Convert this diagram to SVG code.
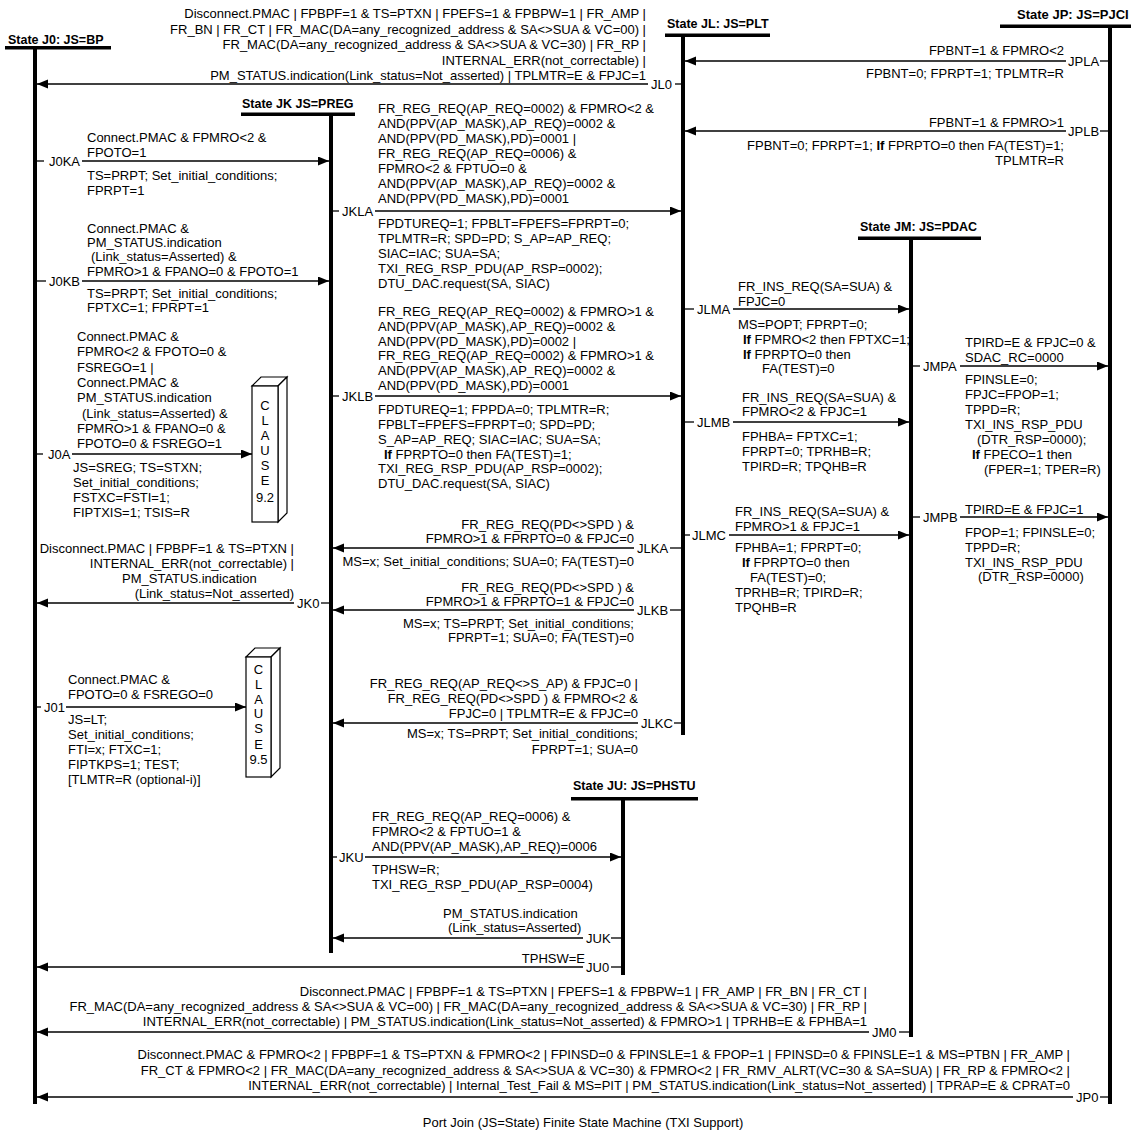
<svg xmlns="http://www.w3.org/2000/svg" width="1131" height="1133" viewBox="0 0 1131 1133">
<style>
text{font-family:"Liberation Sans",Arial,sans-serif;font-size:13px;fill:#000}
.r{text-anchor:end}
.h{font-weight:bold;font-size:12.5px}
.b{font-weight:bold}
.st{stroke:#000;stroke-width:4;fill:none}
.bar{fill:#000}
.c{stroke:#000;stroke-width:1.3;fill:none}
.cap{text-anchor:middle}
.box{fill:#fff;stroke:#000;stroke-width:1.2}
.mid{text-anchor:middle}
</style>
<defs>
<marker id="ah" markerUnits="userSpaceOnUse" markerWidth="12" markerHeight="10" refX="11" refY="4.5" orient="auto"><path d="M0,0 L11,4.5 L0,9 z" fill="#000"/></marker>
</defs>

<g id="J0"><text class="h" x="8" y="44">State J0: JS=BP</text><rect class="bar" x="5" y="46" width="106" height="3.5"/><line class="st" x1="35" y1="47" x2="35" y2="1104"/></g>
<g id="JL"><text class="h" x="667" y="28">State JL: JS=PLT</text><rect class="bar" x="665" y="33.5" width="105" height="3.5"/><line class="st" x1="683" y1="34" x2="683" y2="735"/></g>
<g id="JP"><text class="h" x="1017" y="19" style="font-size:13px">State JP: JS=PJCI</text><rect class="bar" x="1000" y="24.5" width="131" height="3.5"/><line class="st" x1="1110" y1="25" x2="1110" y2="1104"/></g>
<g id="JK"><text class="h" x="242" y="108">State JK JS=PREG</text><rect class="bar" x="241" y="112.5" width="114" height="3.5"/><line class="st" x1="331" y1="113" x2="331" y2="953"/></g>
<g id="JM"><text class="h" x="860" y="231">State JM: JS=PDAC</text><rect class="bar" x="858" y="236.5" width="123" height="3.5"/><line class="st" x1="911" y1="237" x2="911" y2="1037"/></g>
<g id="JU"><text class="h" x="573" y="790">State JU: JS=PHSTU</text><rect class="bar" x="571" y="797" width="127" height="3.5"/><line class="st" x1="623" y1="798" x2="623" y2="975"/></g>

<g id="CL92"><path class="box" d="M252,386 L261,377 L287,377 L278,386 Z"/><path class="box" d="M278,386 L287,377 L287,513 L278,522 Z"/><rect class="box" x="252" y="386" width="26" height="136"/>
<text class="mid" x="265" y="410">C</text><text class="mid" x="265" y="425">L</text><text class="mid" x="265" y="440">A</text><text class="mid" x="265" y="455">U</text><text class="mid" x="265" y="470">S</text><text class="mid" x="265" y="485">E</text><text class="mid" x="265" y="502">9.2</text></g>
<g id="CL95"><path class="box" d="M246,657 L255,648 L280,648 L271,657 Z"/><path class="box" d="M271,657 L280,648 L280,768 L271,777 Z"/><rect class="box" x="246" y="657" width="25" height="120"/>
<text class="mid" x="258.5" y="674">C</text><text class="mid" x="258.5" y="689">L</text><text class="mid" x="258.5" y="704">A</text><text class="mid" x="258.5" y="718">U</text><text class="mid" x="258.5" y="733">S</text><text class="mid" x="258.5" y="749">E</text><text class="mid" x="258.5" y="764">9.5</text></g>

<g id="connectors">
<!-- JL0 -->
<line class="c" x1="648" y1="84" x2="37" y2="84" marker-end="url(#ah)"/><line class="c" x1="675" y1="84" x2="683" y2="84"/>
<text x="651" y="89">JL0</text>
<text class="r" x="646" y="18">Disconnect.PMAC | FPBPF=1 &amp; TS=PTXN | FPEFS=1 &amp; FPBPW=1 | FR_AMP |</text>
<text class="r" x="646" y="34">FR_BN | FR_CT | FR_MAC(DA=any_recognized_address &amp; SA&lt;&gt;SUA &amp; VC=00) |</text>
<text class="r" x="646" y="49">FR_MAC(DA=any_recognized_address &amp; SA&lt;&gt;SUA &amp; VC=30) | FR_RP |</text>
<text class="r" x="646" y="65">INTERNAL_ERR(not_correctable) |</text>
<text class="r" x="646" y="80">PM_STATUS.indication(Link_status=Not_asserted) | TPLMTR=E &amp; FPJC=1</text>

<!-- JPLA -->
<line class="c" x1="1066" y1="61" x2="685" y2="61" marker-end="url(#ah)"/><line class="c" x1="1100" y1="61" x2="1110" y2="61"/>
<text x="1068" y="66">JPLA</text>
<text class="r" x="1064" y="55">FPBNT=1 &amp; FPMRO&lt;2</text>
<text class="r" x="1064" y="78">FPBNT=0; FPRPT=1; TPLMTR=R</text>

<!-- JPLB -->
<line class="c" x1="1066" y1="131" x2="685" y2="131" marker-end="url(#ah)"/><line class="c" x1="1100" y1="131" x2="1110" y2="131"/>
<text x="1068" y="136">JPLB</text>
<text class="r" x="1064" y="127">FPBNT=1 &amp; FPMRO&gt;1</text>
<text class="r" x="1064" y="150">FPBNT=0; FPRPT=1;  <tspan class="b">If</tspan> FPRPTO=0 then FA(TEST)=1;</text>
<text class="r" x="1064" y="165">TPLMTR=R</text>

<!-- J0KA -->
<line class="c" x1="35" y1="161" x2="44" y2="161"/><line class="c" x1="82" y1="161" x2="329" y2="161" marker-end="url(#ah)"/>
<text class="r" x="80" y="166">J0KA</text>
<text x="87" y="142">Connect.PMAC &amp; FPMRO&lt;2 &amp;</text>
<text x="87" y="157">FPOTO=1</text>
<text x="87" y="180">TS=PRPT; Set_initial_conditions;</text>
<text x="87" y="195">FPRPT=1</text>

<!-- J0KB -->
<line class="c" x1="35" y1="281" x2="46" y2="281"/><line class="c" x1="82" y1="281" x2="329" y2="281" marker-end="url(#ah)"/>
<text class="r" x="80" y="286">J0KB</text>
<text x="87" y="233">Connect.PMAC &amp;</text>
<text x="87" y="247">PM_STATUS.indication</text>
<text x="91" y="261">(Link_status=Asserted) &amp;</text>
<text x="87" y="276">FPMRO&gt;1 &amp; FPANO=0 &amp; FPOTO=1</text>
<text x="87" y="298">TS=PRPT; Set_initial_conditions;</text>
<text x="87" y="312">FPTXC=1; FPRPT=1</text>

<!-- J0A -->
<line class="c" x1="35" y1="454" x2="43" y2="454"/><line class="c" x1="72" y1="454" x2="252" y2="454" marker-end="url(#ah)"/>
<text x="48" y="459">J0A</text>
<text x="77" y="341">Connect.PMAC &amp;</text>
<text x="77" y="356">FPMRO&lt;2 &amp; FPOTO=0 &amp;</text>
<text x="77" y="372">FSREGO=1 |</text>
<text x="77" y="387">Connect.PMAC &amp;</text>
<text x="77" y="402">PM_STATUS.indication</text>
<text x="82" y="418">(Link_status=Asserted) &amp;</text>
<text x="77" y="433">FPMRO&gt;1 &amp; FPANO=0 &amp;</text>
<text x="77" y="448">FPOTO=0 &amp; FSREGO=1</text>
<text x="73" y="472">JS=SREG; TS=STXN;</text>
<text x="73" y="487">Set_initial_conditions;</text>
<text x="73" y="502">FSTXC=FSTI=1;</text>
<text x="73" y="517">FIPTXIS=1; TSIS=R</text>

<!-- JK0 -->
<line class="c" x1="294" y1="603" x2="37" y2="603" marker-end="url(#ah)"/><line class="c" x1="321" y1="603" x2="331" y2="603"/>
<text x="297" y="608">JK0</text>
<text class="r" x="294" y="553">Disconnect.PMAC | FPBPF=1 &amp; TS=PTXN |</text>
<text class="r" x="294" y="568">INTERNAL_ERR(not_correctable) |</text>
<text x="122" y="583">PM_STATUS.indication</text>
<text class="r" x="294" y="598">(Link_status=Not_asserted)</text>

<!-- J01 -->
<line class="c" x1="35" y1="707" x2="41" y2="707"/><line class="c" x1="66" y1="707" x2="246" y2="707" marker-end="url(#ah)"/>
<text x="44" y="712">J01</text>
<text x="68" y="684">Connect.PMAC &amp;</text>
<text x="68" y="699">FPOTO=0 &amp; FSREGO=0</text>
<text x="68" y="724">JS=LT;</text>
<text x="68" y="739">Set_initial_conditions;</text>
<text x="68" y="754">FTI=x; FTXC=1;</text>
<text x="68" y="769">FIPTKPS=1;  TEST;</text>
<text x="68" y="784">[TLMTR=R (optional-i)]</text>

<!-- JKLA -->
<line class="c" x1="331" y1="211" x2="339" y2="211"/><line class="c" x1="375" y1="211" x2="681" y2="211" marker-end="url(#ah)"/>
<text x="342" y="216">JKLA</text>
<text x="378" y="113">FR_REG_REQ(AP_REQ=0002) &amp; FPMRO&lt;2 &amp;</text>
<text x="378" y="128">AND(PPV(AP_MASK),AP_REQ)=0002 &amp;</text>
<text x="378" y="143">AND(PPV(PD_MASK),PD)=0001 |</text>
<text x="378" y="158">FR_REG_REQ(AP_REQ=0006) &amp;</text>
<text x="378" y="173">FPMRO&lt;2 &amp; FPTUO=0 &amp;</text>
<text x="378" y="188">AND(PPV(AP_MASK),AP_REQ)=0002 &amp;</text>
<text x="378" y="203">AND(PPV(PD_MASK),PD)=0001</text>
<text x="378" y="228">FPDTUREQ=1; FPBLT=FPEFS=FPRPT=0;</text>
<text x="378" y="243">TPLMTR=R; SPD=PD; S_AP=AP_REQ;</text>
<text x="378" y="258">SIAC=IAC; SUA=SA;</text>
<text x="378" y="273">TXI_REG_RSP_PDU(AP_RSP=0002);</text>
<text x="378" y="288">DTU_DAC.request(SA, SIAC)</text>

<!-- JKLB -->
<line class="c" x1="331" y1="396" x2="339" y2="396"/><line class="c" x1="375" y1="396" x2="681" y2="396" marker-end="url(#ah)"/>
<text x="342" y="401">JKLB</text>
<text x="378" y="316">FR_REG_REQ(AP_REQ=0002) &amp; FPMRO&gt;1 &amp;</text>
<text x="378" y="331">AND(PPV(AP_MASK),AP_REQ)=0002 &amp;</text>
<text x="378" y="346">AND(PPV(PD_MASK),PD)=0002 |</text>
<text x="378" y="360">FR_REG_REQ(AP_REQ=0002) &amp; FPMRO&gt;1 &amp;</text>
<text x="378" y="375">AND(PPV(AP_MASK),AP_REQ)=0002 &amp;</text>
<text x="378" y="390">AND(PPV(PD_MASK),PD)=0001</text>
<text x="378" y="414">FPDTUREQ=1; FPPDA=0; TPLMTR=R;</text>
<text x="378" y="429">FPBLT=FPEFS=FPRPT=0; SPD=PD;</text>
<text x="378" y="444">S_AP=AP_REQ; SIAC=IAC; SUA=SA;</text>
<text x="384" y="459"><tspan class="b">If</tspan> FPRPTO=0 then FA(TEST)=1;</text>
<text x="378" y="473">TXI_REG_RSP_PDU(AP_RSP=0002);</text>
<text x="378" y="488">DTU_DAC.request(SA, SIAC)</text>

<!-- JLKA -->
<line class="c" x1="634" y1="548" x2="333" y2="548" marker-end="url(#ah)"/><line class="c" x1="670" y1="548" x2="683" y2="548"/>
<text x="637" y="553">JLKA</text>
<text class="r" x="634" y="529">FR_REG_REQ(PD&lt;&gt;SPD ) &amp;</text>
<text class="r" x="634" y="543">FPMRO&gt;1 &amp; FPRPTO=0 &amp; FPJC=0</text>
<text class="r" x="634" y="566">MS=x; Set_initial_conditions; SUA=0; FA(TEST)=0</text>

<!-- JLKB -->
<line class="c" x1="634" y1="610" x2="333" y2="610" marker-end="url(#ah)"/><line class="c" x1="670" y1="610" x2="683" y2="610"/>
<text x="637" y="615">JLKB</text>
<text class="r" x="634" y="592">FR_REG_REQ(PD&lt;&gt;SPD ) &amp;</text>
<text class="r" x="634" y="606">FPMRO&gt;1 &amp; FPRPTO=1 &amp; FPJC=0</text>
<text class="r" x="634" y="628">MS=x; TS=PRPT; Set_initial_conditions;</text>
<text class="r" x="634" y="642">FPRPT=1; SUA=0; FA(TEST)=0</text>

<!-- JLKC -->
<line class="c" x1="638" y1="723" x2="333" y2="723" marker-end="url(#ah)"/><line class="c" x1="674" y1="723" x2="683" y2="723"/>
<text x="641" y="728">JLKC</text>
<text class="r" x="638" y="688">FR_REG_REQ(AP_REQ&lt;&gt;S_AP) &amp; FPJC=0 |</text>
<text class="r" x="638" y="703">FR_REG_REQ(PD&lt;&gt;SPD ) &amp; FPMRO&lt;2 &amp;</text>
<text class="r" x="638" y="718">FPJC=0 | TPLMTR=E &amp; FPJC=0</text>
<text class="r" x="638" y="738">MS=x; TS=PRPT; Set_initial_conditions;</text>
<text class="r" x="638" y="754">FPRPT=1; SUA=0</text>

<!-- JLMA -->
<line class="c" x1="683" y1="309" x2="694" y2="309"/><line class="c" x1="733" y1="309" x2="909" y2="309" marker-end="url(#ah)"/>
<text x="697" y="314">JLMA</text>
<text x="738" y="291">FR_INS_REQ(SA=SUA) &amp;</text>
<text x="738" y="306">FPJC=0</text>
<text x="738" y="329">MS=POPT; FPRPT=0;</text>
<text x="743" y="344"><tspan class="b">If</tspan> FPMRO&lt;2 then FPTXC=1;</text>
<text x="743" y="359"><tspan class="b">If</tspan> FPRPTO=0 then</text>
<text x="762" y="373">FA(TEST)=0</text>

<!-- JLMB -->
<line class="c" x1="683" y1="422" x2="694" y2="422"/><line class="c" x1="733" y1="422" x2="909" y2="422" marker-end="url(#ah)"/>
<text x="697" y="427">JLMB</text>
<text x="742" y="402">FR_INS_REQ(SA=SUA) &amp;</text>
<text x="742" y="416">FPMRO&lt;2 &amp; FPJC=1</text>
<text x="742" y="441">FPHBA= FPTXC=1;</text>
<text x="742" y="456">FPRPT=0; TPRHB=R;</text>
<text x="742" y="471">TPIRD=R; TPQHB=R</text>

<!-- JLMC -->
<line class="c" x1="683" y1="535" x2="690" y2="535"/><line class="c" x1="729" y1="535" x2="909" y2="535" marker-end="url(#ah)"/>
<text x="692" y="540">JLMC</text>
<text x="735" y="516">FR_INS_REQ(SA=SUA) &amp;</text>
<text x="735" y="531">FPMRO&gt;1 &amp; FPJC=1</text>
<text x="735" y="552">FPHBA=1; FPRPT=0;</text>
<text x="742" y="567"><tspan class="b">If</tspan> FPRPTO=0 then</text>
<text x="750" y="582">FA(TEST)=0;</text>
<text x="735" y="597">TPRHB=R; TPIRD=R;</text>
<text x="735" y="612">TPQHB=R</text>

<!-- JMPA -->
<line class="c" x1="911" y1="366" x2="920" y2="366"/><line class="c" x1="960" y1="366" x2="1108" y2="366" marker-end="url(#ah)"/>
<text x="923" y="371">JMPA</text>
<text x="965" y="347">TPIRD=E &amp; FPJC=0 &amp;</text>
<text x="965" y="362">SDAC_RC=0000</text>
<text x="965" y="384">FPINSLE=0;</text>
<text x="965" y="399">FPJC=FPOP=1;</text>
<text x="965" y="414">TPPD=R;</text>
<text x="965" y="429">TXI_INS_RSP_PDU</text>
<text x="977" y="444">(DTR_RSP=0000);</text>
<text x="972" y="459"><tspan class="b">If</tspan> FPECO=1 then</text>
<text x="984" y="474">(FPER=1; TPER=R)</text>

<!-- JMPB -->
<line class="c" x1="911" y1="517" x2="920" y2="517"/><line class="c" x1="960" y1="517" x2="1108" y2="517" marker-end="url(#ah)"/>
<text x="923" y="522">JMPB</text>
<text x="965" y="514">TPIRD=E &amp; FPJC=1</text>
<text x="965" y="537">FPOP=1; FPINSLE=0;</text>
<text x="965" y="552">TPPD=R;</text>
<text x="965" y="567">TXI_INS_RSP_PDU</text>
<text x="978" y="581">(DTR_RSP=0000)</text>

<!-- JKU -->
<line class="c" x1="331" y1="857" x2="337" y2="857"/><line class="c" x1="365" y1="857" x2="621" y2="857" marker-end="url(#ah)"/>
<text x="339" y="862">JKU</text>
<text x="372" y="821">FR_REG_REQ(AP_REQ=0006) &amp;</text>
<text x="372" y="836">FPMRO&lt;2 &amp; FPTUO=1 &amp;</text>
<text x="372" y="851">AND(PPV(AP_MASK),AP_REQ)=0006</text>
<text x="372" y="874">TPHSW=R;</text>
<text x="372" y="889">TXI_REG_RSP_PDU(AP_RSP=0004)</text>

<!-- JUK -->
<line class="c" x1="583" y1="938" x2="333" y2="938" marker-end="url(#ah)"/><line class="c" x1="611" y1="938" x2="623" y2="938"/>
<text x="586" y="943">JUK</text>
<text x="443" y="918">PM_STATUS.indication</text>
<text x="448" y="932">(Link_status=Asserted)</text>

<!-- JU0 -->
<line class="c" x1="583" y1="967" x2="37" y2="967" marker-end="url(#ah)"/><line class="c" x1="611" y1="967" x2="623" y2="967"/>
<text x="586" y="972">JU0</text>
<text class="r" x="585" y="963">TPHSW=E</text>

<!-- JM0 -->
<line class="c" x1="869" y1="1032" x2="37" y2="1032" marker-end="url(#ah)"/><line class="c" x1="899" y1="1032" x2="911" y2="1032"/>
<text x="872" y="1037">JM0</text>
<text class="r" x="867" y="996">Disconnect.PMAC | FPBPF=1 &amp; TS=PTXN | FPEFS=1 &amp; FPBPW=1 | FR_AMP | FR_BN | FR_CT |</text>
<text class="r" x="867" y="1011">FR_MAC(DA=any_recognized_address &amp; SA&lt;&gt;SUA &amp; VC=00) | FR_MAC(DA=any_recognized_address &amp; SA&lt;&gt;SUA &amp; VC=30) | FR_RP |</text>
<text class="r" x="867" y="1026">INTERNAL_ERR(not_correctable) | PM_STATUS.indication(Link_status=Not_asserted) &amp; FPMRO&gt;1 | TPRHB=E &amp; FPHBA=1</text>

<!-- JP0 -->
<line class="c" x1="1073" y1="1097" x2="37" y2="1097" marker-end="url(#ah)"/><line class="c" x1="1100" y1="1097" x2="1110" y2="1097"/>
<text x="1076" y="1102">JP0</text>
<text class="r" x="1070" y="1059">Disconnect.PMAC &amp; FPMRO&lt;2 | FPBPF=1 &amp; TS=PTXN &amp; FPMRO&lt;2 | FPINSD=0 &amp; FPINSLE=1 &amp; FPOP=1 | FPINSD=0 &amp; FPINSLE=1 &amp; MS=PTBN | FR_AMP |</text>
<text class="r" x="1070" y="1075">FR_CT &amp; FPMRO&lt;2 | FR_MAC(DA=any_recognized_address &amp; SA&lt;&gt;SUA &amp; VC=30) &amp; FPMRO&lt;2 | FR_RMV_ALRT(VC=30 &amp; SA=SUA) | FR_RP &amp; FPMRO&lt;2 |</text>
<text class="r" x="1070" y="1090">INTERNAL_ERR(not_correctable) | Internal_Test_Fail &amp; MS=PIT | PM_STATUS.indication(Link_status=Not_asserted) | TPRAP=E &amp; CPRAT=0</text>
</g>

<text class="cap" x="583" y="1127">Port Join (JS=State) Finite State Machine (TXI Support)</text>
</svg>
